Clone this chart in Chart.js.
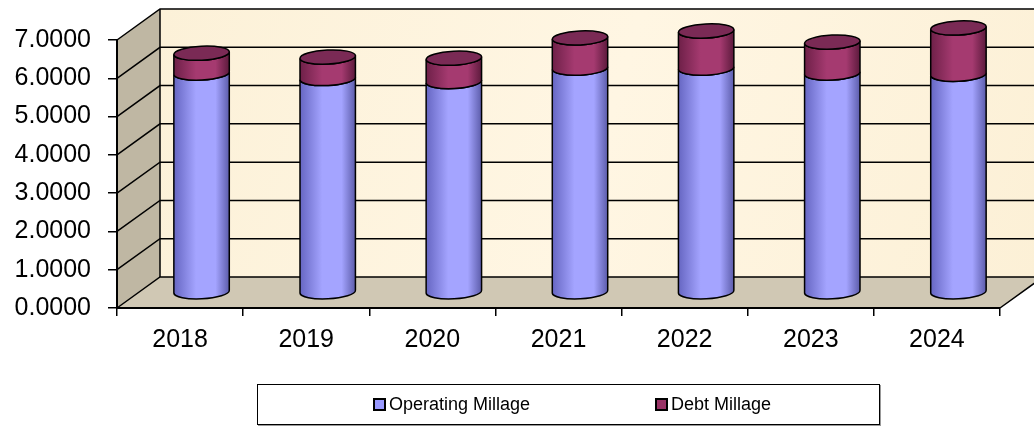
<!DOCTYPE html>
<html>
<head>
<meta charset="utf-8">
<script src="https://cdn.jsdelivr.net/npm/chart.js@4.4.1/dist/chart.umd.min.js"></script>
<style>
  html, body { margin: 0; padding: 0; background: #fff; }
  #wrap { position: relative; width: 1034px; height: 426px; overflow: hidden; }
  #legend {
    position: absolute; left: 257px; top: 384px; width: 621px; height: 39px;
    border: 1px solid #000; box-shadow: 1px 1px 0 #999; background: #fff;
    font-family: "Liberation Sans", Arial, sans-serif; font-size: 18px; color: #000;
  }
  .item { position: absolute; top: 9px; line-height: 21px; white-space: nowrap; }
  .sw { display: inline-block; width: 9px; height: 9px; border: 2px solid #000; margin-right: 3px; vertical-align: -1px; }
</style>
</head>
<body>
<div id="wrap">
  <canvas id="c" width="1034" height="426"></canvas>
  <div id="legend">
    <span class="item" style="left:115px"><span class="sw" style="background:#9999ff"></span>Operating Millage</span>
    <span class="item" style="left:397px"><span class="sw" style="background:#993366"></span>Debt Millage</span>
  </div>
</div>
<script>
// ---- data ----
const years     = ["2018", "2019", "2020", "2021", "2022", "2023", "2024"];
const operating = [5.73, 5.59, 5.51, 5.86, 5.86, 5.73, 5.70];
const debt      = [0.52, 0.56, 0.61, 0.79, 0.97, 0.81, 1.21];

// depth of the fake 3d box
const DX = 43, DY = -31;

const FONT = "'Liberation Sans', Arial, sans-serif";

// walls, floor, gridlines behind everything
const walls = {
  id: "walls",
  beforeDraw(chart) {
    const { ctx, chartArea: a, scales: { y } } = chart;
    const L = a.left, R = a.right, T = a.top, B = a.bottom;
    ctx.save();

    // side wall
    ctx.fillStyle = "#bfb7a3";
    ctx.beginPath();
    ctx.moveTo(L, T); ctx.lineTo(L + DX, T + DY); ctx.lineTo(L + DX, B + DY); ctx.lineTo(L, B);
    ctx.closePath(); ctx.fill();

    // back wall
    const g = ctx.createLinearGradient(L + DX, T + DY, R + DX, B + DY);
    g.addColorStop(0, "#fcf1d8");
    g.addColorStop(0.5, "#fff6e3");
    g.addColorStop(1, "#fcf0d6");
    ctx.fillStyle = g;
    ctx.fillRect(L + DX, T + DY, R - L, B - T);

    // floor
    ctx.fillStyle = "#d0c8b4";
    ctx.beginPath();
    ctx.moveTo(L, B); ctx.lineTo(R, B); ctx.lineTo(R + DX, B + DY); ctx.lineTo(L + DX, B + DY);
    ctx.closePath(); ctx.fill();

    // gridlines on side + back wall
    ctx.strokeStyle = "#000";
    ctx.lineWidth = 1.5;
    y.ticks.forEach(t => {
      const py = y.getPixelForValue(t.value);
      ctx.beginPath();
      ctx.moveTo(L, py); ctx.lineTo(L + DX, py + DY); ctx.lineTo(R + DX, py + DY);
      ctx.stroke();
    });

    // box edges
    ctx.beginPath();
    ctx.moveTo(L + DX, T + DY); ctx.lineTo(L + DX, B + DY);
    ctx.moveTo(R, B); ctx.lineTo(R + DX, B + DY);
    ctx.stroke();
    ctx.lineWidth = 2;
    ctx.beginPath();
    ctx.moveTo(L, B); ctx.lineTo(R, B);
    ctx.stroke();
    ctx.restore();
  }
};

const looks = [
  { dark: "#6666c2", mid: "#a4a4ff", edge: "#5c5caa", top: "#8c8cf0" },
  { dark: "#6e2048", mid: "#a53a70", edge: "#5c1a3c", top: "#7a2a55" }
];

function cylinder(ctx, cx, rx, top, base, look, capped) {
  const ry = 7, rot = -0.05;
  const sx = rx * Math.cos(rot), sy = rx * Math.sin(rot);
  const g = ctx.createLinearGradient(cx - rx, 0, cx + rx, 0);
  g.addColorStop(0, look.dark);
  g.addColorStop(0.4, look.mid);
  g.addColorStop(0.75, look.mid);
  g.addColorStop(1, look.edge);

  ctx.beginPath();
  ctx.ellipse(cx, base, rx, ry, rot, Math.PI, 0, true);
  ctx.lineTo(cx + sx, top + sy);
  ctx.ellipse(cx, top, rx, ry, rot, 0, Math.PI, false);
  ctx.closePath();
  ctx.fillStyle = g;
  ctx.fill();
  ctx.stroke();

  if (capped) {
    ctx.beginPath();
    ctx.ellipse(cx, top, rx, ry, rot, 0, Math.PI * 2);
    ctx.fillStyle = look.top;
    ctx.fill();
    ctx.stroke();
  }
}

const cylinders = {
  id: "cylinders",
  afterDatasetsDraw(chart) {
    const ctx = chart.ctx;
    ctx.save();
    ctx.strokeStyle = "#000";
    ctx.lineWidth = 1.5;
    const n = chart.data.datasets.length;
    chart.data.datasets.forEach((ds, d) => {
      chart.getDatasetMeta(d).data.forEach(el => {
        cylinder(ctx, el.x + DX / 2, el.width / 2, el.y + DY / 2, el.base + DY / 2, looks[d], d === n - 1);
      });
    });
    ctx.restore();
  }
};

new Chart(document.getElementById("c"), {
  type: "bar",
  data: {
    labels: years,
    datasets: [
      { label: "Operating Millage", data: operating, backgroundColor: "rgba(0,0,0,0)" },
      { label: "Debt Millage",      data: debt,      backgroundColor: "rgba(0,0,0,0)" }
    ]
  },
  options: {
    responsive: false,
    animation: false,
    devicePixelRatio: 1,
    layout: { padding: { top: 40, right: 34, left: 0, bottom: 62 } },
    datasets: { bar: { categoryPercentage: 1, barPercentage: 0.44 } },
    plugins: { legend: { display: false }, tooltip: { enabled: false } },
    scales: {
      x: {
        stacked: true,
        grid: { drawOnChartArea: false, drawTicks: true, tickLength: 8, color: "#000", lineWidth: 1.5 },
        border: { display: true, color: "#000", width: 2 },
        ticks: { color: "#000", padding: 9, font: { family: FONT, size: 25 } }
      },
      y: {
        stacked: true,
        min: 0, max: 7,
        afterFit: s => { s.width = 117; },
        grid: { drawOnChartArea: false, drawTicks: true, tickLength: 9, color: "#000", lineWidth: 1.5 },
        border: { display: true, color: "#000", width: 2 },
        ticks: { stepSize: 1, color: "#000", padding: 17, font: { family: FONT, size: 25 },
                 callback: v => Number(v).toFixed(4) }
      }
    }
  },
  plugins: [walls, cylinders]
});
</script>
</body>
</html>
